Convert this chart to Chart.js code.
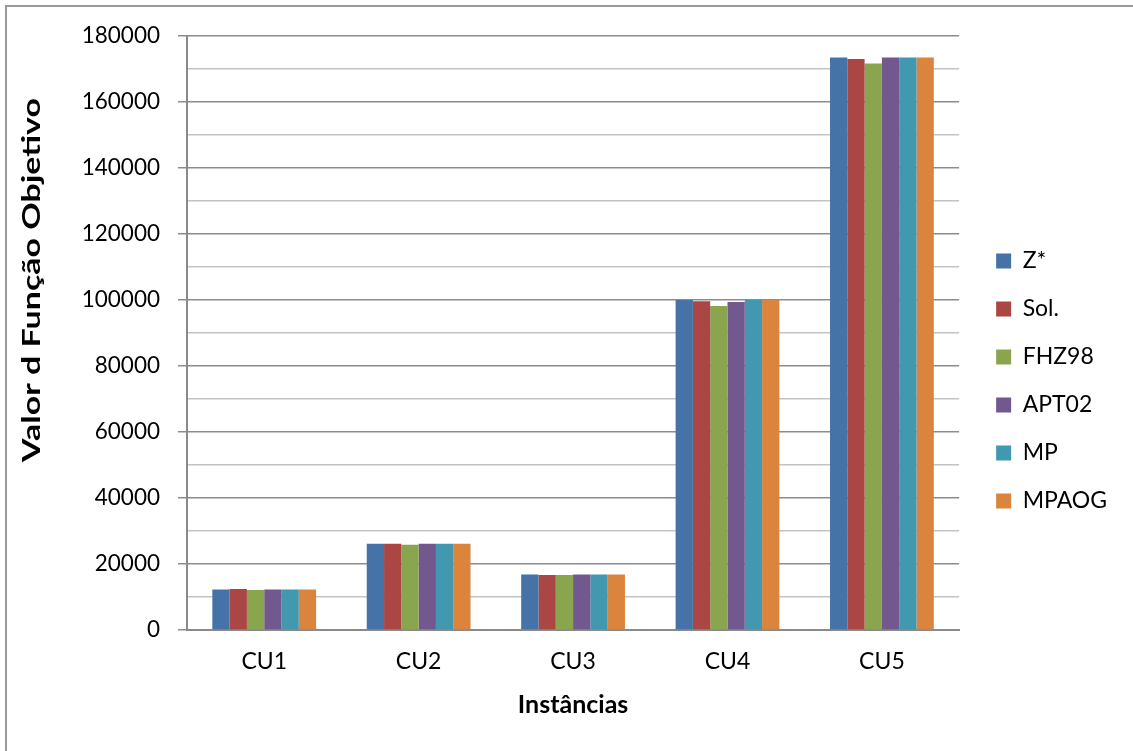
<!DOCTYPE html>
<html>
<head>
<meta charset="utf-8">
<script src="https://cdn.jsdelivr.net/npm/chart.js@4.4.1/dist/chart.umd.min.js"></script>
<style>
  html, body { margin: 0; padding: 0; background: #fff; overflow: hidden; }
  #wrap { position: relative; width: 1133px; height: 751px; }
  #frame { position: absolute; left: 5px; top: 5px; width: 1140px; height: 760px; border: 2px solid #9a9a9a; box-sizing: border-box; pointer-events: none; }
  canvas { position: absolute; left: 0; top: 0; }
</style>
</head>
<body>
<div id="wrap">
  <canvas id="c" width="1133" height="751"></canvas>
  <div id="frame"></div>
</div>
<script>
// Instances and objective-function values per method
const categories = ['CU1', 'CU2', 'CU3', 'CU4', 'CU5'];
const seriesNames = ['Z*', 'Sol.', 'FHZ98', 'APT02', 'MP', 'MPAOG'];
const zStar  = [12300, 26100, 16800, 100000, 173500];
const sol    = [12400, 26100, 16700,  99600, 173000];
const fhz98  = [12100, 25800, 16700,  98200, 171700];
const apt02  = [12300, 26100, 16800,  99400, 173500];
const mp     = [12300, 26100, 16800, 100000, 173500];
const mpaog  = [12300, 26100, 16800, 100000, 173500];
const seriesColors = ['#4573a7', '#aa4643', '#89a54e', '#71588f', '#4198af', '#db843d'];
const yAxisTitle = 'Valor d Função Objetivo';
const xAxisTitle = 'Instâncias';

const seriesValues = [zStar, sol, fhz98, apt02, mp, mpaog];
const FONT = 'Lato, "Open Sans", sans-serif';

// Rotated y-axis title, placed beside the value labels (drawn wide along its run)
const yTitlePlugin = {
  id: 'yTitle',
  afterDraw(chart) {
    const ctx = chart.ctx;
    ctx.save();
    ctx.translate(32, 280);
    ctx.rotate(-Math.PI / 2);
    ctx.font = 'bold 24px ' + FONT;
    const w = ctx.measureText(yAxisTitle).width;
    ctx.scale(364 / w, 1);
    ctx.fillStyle = '#000';
    ctx.textAlign = 'center';
    ctx.textBaseline = 'middle';
    ctx.fillText(yAxisTitle, 0, 0);
    ctx.restore();
  }
};

// Nudge the legend block into place beside the plot
const legendShift = {
  id: 'legendShift',
  afterLayout(chart) {
    const lg = chart.legend;
    if (!lg) return;
    lg.left += 12; lg.right += 12;
    lg.top += 3; lg.bottom += 3;
  }
};

new Chart(document.getElementById('c'), {
  type: 'bar',
  data: {
    labels: categories,
    datasets: seriesNames.map((name, i) => ({
      label: name,
      data: seriesValues[i],
      backgroundColor: seriesColors[i],
      borderWidth: 0,
      categoryPercentage: 0.672,
      barPercentage: 1.0
    }))
  },
  options: {
    responsive: false,
    animation: false,
    devicePixelRatio: 1,
    layout: { padding: { left: 0, top: 36, right: 28, bottom: 31 } },
    plugins: {
      legend: {
        position: 'right',
        align: 'center',
        labels: {
          font: { family: FONT, size: 23 },
          color: '#000',
          boxWidth: 15,
          boxHeight: 15,
          padding: 25
        }
      },
      tooltip: { enabled: false }
    },
    scales: {
      x: {
        grid: { display: false, drawTicks: false },
        border: { display: true, color: '#8a8a8a', width: 2 },
        ticks: { font: { family: FONT, size: 23 }, color: '#000', padding: 18 },
        title: {
          display: true,
          text: xAxisTitle,
          font: { family: FONT, size: 25, weight: 'bold' },
          color: '#000',
          padding: { top: 10, bottom: 0 }
        },
        afterFit(scale) { scale.height = 90; }
      },
      y: {
        min: 0,
        max: 180000,
        border: { display: true, color: '#8a8a8a', width: 2 },
        grid: {
          color: ctx => (ctx.tick && ctx.tick.value % 20000 === 0) ? '#8c8c8c' : '#c4c4c4',
          lineWidth: 1.5,
          tickLength: 9,
          tickColor: ctx => (ctx.tick && ctx.tick.value % 20000 === 0) ? '#8c8c8c' : 'rgba(0,0,0,0)'
        },
        ticks: {
          stepSize: 10000,
          autoSkip: false,
          font: { family: FONT, size: 22.5 },
          color: '#000',
          padding: 18,
          callback: v => (v % 20000 === 0) ? String(v) : ''
        },
        afterFit(scale) { scale.width = 187; }
      }
    }
  },
  plugins: [yTitlePlugin, legendShift]
});
</script>
</body>
</html>
